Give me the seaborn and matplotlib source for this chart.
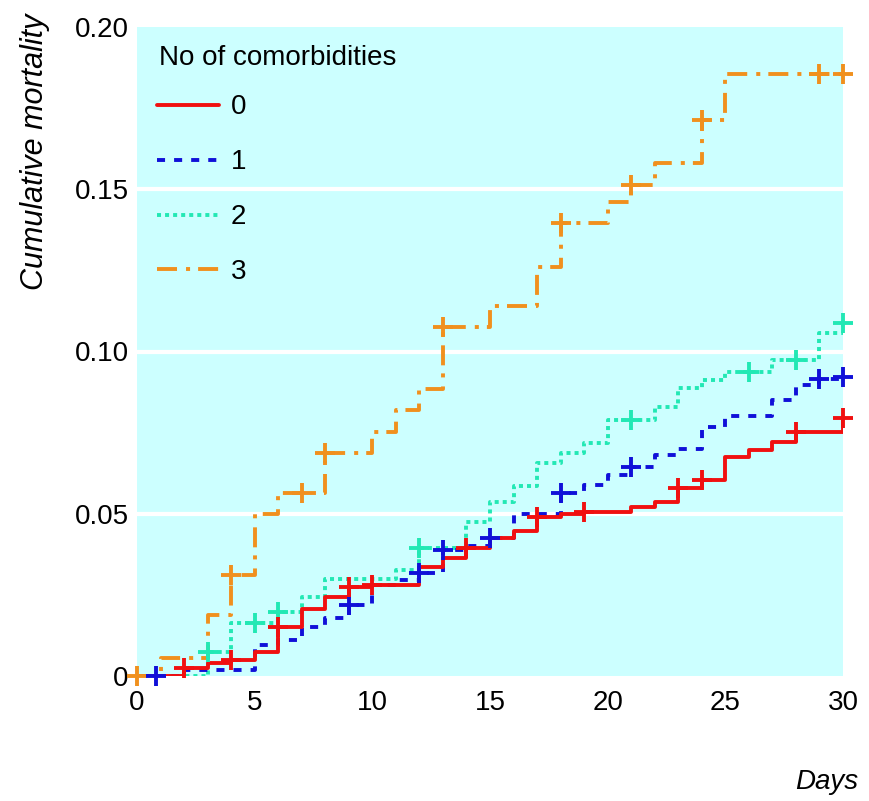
import matplotlib
matplotlib.use("Agg")
import matplotlib.pyplot as plt
import seaborn as sns
from matplotlib.lines import Line2D

# ---------------- data ----------------
group_labels = ["0", "1", "2", "3"]
legend_title = "No of comorbidities"
x_ticks = [0, 5, 10, 15, 20, 25, 30]
y_ticks = [0, 0.05, 0.10, 0.15, 0.20]
y_tick_labels = ["0", "0.05", "0.10", "0.15", "0.20"]
y_grid = [0.05, 0.10, 0.15]

# group 0
t0 = [0, 2, 3, 4, 5, 6, 7, 8, 9, 10, 12, 13, 14, 15, 16, 17, 18, 19, 21, 22, 23, 24, 25, 26, 27, 28, 30]
v0 = [0, 0.0025, 0.0039, 0.0049, 0.0075, 0.0152, 0.0206, 0.0244, 0.0273, 0.0280, 0.0337, 0.0364,
      0.0394, 0.0424, 0.0447, 0.0489, 0.0498, 0.0506, 0.0522, 0.0537, 0.0578, 0.0604, 0.0676,
      0.0696, 0.0722, 0.0753, 0.0794]
c0_t = [2, 4, 6, 9, 10, 14, 17, 19, 23, 24, 28, 30]
c0_v = [0.0025, 0.0049, 0.0152, 0.0273, 0.0280, 0.0394, 0.0489, 0.0506, 0.0578, 0.0604, 0.0753, 0.0794]

# group 1
t1 = [0, 2, 5, 6, 7, 8, 9, 10, 11, 12, 13, 14, 15, 16, 18, 19, 20, 21, 22, 23, 24, 25, 27, 28, 29, 30]
v1 = [0, 0.0018, 0.0096, 0.0110, 0.0152, 0.0178, 0.0219, 0.0280, 0.0296, 0.0316, 0.0388, 0.0400,
      0.0424, 0.0500, 0.0563, 0.0589, 0.0620, 0.0645, 0.0680, 0.0700, 0.0768, 0.0800, 0.0850,
      0.0897, 0.0914, 0.0920]
c1_t = [0.8, 9, 12, 13, 15, 18, 21, 29, 30]
c1_v = [0, 0.0219, 0.0316, 0.0388, 0.0424, 0.0563, 0.0645, 0.0914, 0.0920]

# group 2
t2 = [0, 3, 4, 6, 7, 8, 11, 12, 14, 15, 16, 17, 18, 19, 20, 22, 23, 24, 25, 27, 29, 30]
v2 = [0, 0.0075, 0.0163, 0.0196, 0.0244, 0.0298, 0.0327, 0.0394, 0.0475, 0.0535, 0.0587, 0.0656,
      0.0688, 0.0717, 0.0790, 0.0830, 0.0887, 0.0912, 0.0938, 0.0974, 0.1056, 0.1087]
c2_t = [3, 5, 6, 12, 21, 26, 28, 30]
c2_v = [0.0075, 0.0163, 0.0196, 0.0394, 0.0790, 0.0938, 0.0974, 0.1087]

# group 3
t3 = [0, 1, 3, 4, 5, 6, 8, 10, 11, 12, 13, 15, 17, 18, 20, 21, 22, 24, 25, 30]
v3 = [0, 0.0055, 0.0188, 0.0310, 0.0500, 0.0563, 0.0686, 0.0753, 0.0820, 0.0884, 0.1077, 0.1140,
      0.1261, 0.1395, 0.1460, 0.1513, 0.1582, 0.1713, 0.1855, 0.1855]
c3_t = [0, 4, 7, 8, 13, 18, 21, 24, 29, 30]
c3_v = [0, 0.0310, 0.0563, 0.0686, 0.1077, 0.1395, 0.1513, 0.1713, 0.1855, 0.1855]

# ---------------- style ----------------
colors = ["#f01010", "#1010d8", "#22e8b4", "#f0901e"]
dash_patterns = [None, (0, (5.8, 6.5)), (0, (2.9, 2.9)), (0, (14.4, 6.5, 2.9, 5.8))]
LW = 2.8

sns.set_style("white", {"axes.facecolor": "#ccffff"})
plt.rcParams["font.family"] = ["Liberation Sans", "DejaVu Sans"]
plt.rcParams["lines.scale_dashes"] = False
plt.rcParams["text.color"] = "black"
plt.rcParams["xtick.labelcolor"] = "black"
plt.rcParams["ytick.labelcolor"] = "black"

fig = plt.figure(figsize=(8.69, 8.01), dpi=100)
ax = fig.add_axes([137 / 869, 1 - 676 / 801, 706 / 869, 649 / 801])
ax.set_facecolor("#ccffff")
ax.set_xlim(0, 30)
ax.set_ylim(0, 0.20)
for s in ax.spines.values():
    s.set_visible(False)

for yv in y_grid:
    ax.axhline(yv, color="white", lw=3, zorder=1)

series = [(t0, v0, c0_t, c0_v), (t1, v1, c1_t, c1_v), (t2, v2, c2_t, c2_v), (t3, v3, c3_t, c3_v)]
draw_order = [3, 2, 1, 0]
for i in draw_order:
    t, v, ct, cv = series[i]
    sns.lineplot(x=t, y=v, ax=ax, color=colors[i], lw=LW, drawstyle="steps-post",
                 estimator=None, sort=False, legend=False, zorder=2 + 0.1 * (3 - i))
    ln = ax.lines[-1]
    if dash_patterns[i] is not None:
        ln.set_linestyle(dash_patterns[i])
    ln.set_dash_capstyle("butt")
    ln.set_solid_capstyle("butt")
    sns.scatterplot(x=ct, y=cv, ax=ax, marker="+", s=210, color=colors[i], linewidth=LW,
                    clip_on=False, zorder=3 + 0.1 * (3 - i), legend=False)

ax.set_xticks(x_ticks)
ax.set_xticklabels([str(x) for x in x_ticks], fontsize=20, color="black")
ax.set_yticks(y_ticks)
ax.set_yticklabels(y_tick_labels, fontsize=20, color="black")
ax.tick_params(axis="x", direction="in", length=7, width=2, color="white", pad=10)
ax.tick_params(axis="y", length=0, pad=6)
ax.set_xlabel("")
ax.set_ylabel("")

handles = []
for i in range(4):
    h = Line2D([0], [0], color=colors[i], lw=LW)
    if dash_patterns[i] is not None:
        h.set_linestyle(dash_patterns[i])
    h.set_dash_capstyle("butt")
    handles.append(h)
leg = ax.legend(handles, group_labels, loc="upper left",
                bbox_to_anchor=(0.029, 0.896), frameon=False, fontsize=20,
                handlelength=2.2, handletextpad=0.45, labelspacing=1.04,
                borderaxespad=0, borderpad=0)
for txt in leg.get_texts():
    txt.set_color("black")

fig.text(159 / 869, 1 - 58 / 801, legend_title, ha="left", va="center", fontsize=20, color="black")
fig.text(35 / 869, 1 - 14 / 801, "Cumulative mortality", rotation=90, ha="center", va="top",
         fontsize=22, fontstyle="italic", color="black")
fig.text(858 / 869, 1 - 782 / 801, "Days", ha="right", va="center", fontsize=20,
         fontstyle="italic", color="black")

fig.savefig("out.png", dpi=100)
